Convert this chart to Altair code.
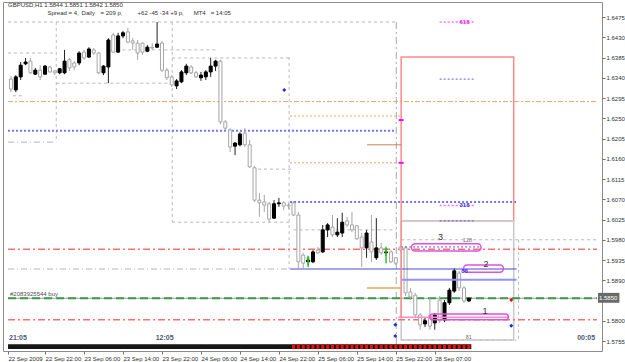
import altair as alt
import pandas as pd

# ---------------- candles (H1 bars, index 0 = first visible bar) ----------------
opens = [1.6337, 1.6313, 1.6342, 1.6371, 1.6377, 1.6348, 1.6357, 1.6348, 1.6364, 1.6355,
         1.6351, 1.6351, 1.6380, 1.6373, 1.6373, 1.6397, 1.6386, 1.6402, 1.6395, 1.6351,
         1.6364, 1.6435, 1.6397, 1.6433, 1.6442, 1.6422, 1.6417, 1.6417, 1.6399, 1.6408,
         1.6408, 1.6417, 1.6357, 1.6342, 1.6322, 1.6331, 1.6351, 1.6364, 1.6351, 1.6340,
         1.6342, 1.6353, 1.6366, 1.6377, 1.6242, 1.6224, 1.6188, 1.6191, 1.6217, 1.6191,
         1.6140, 1.6068, 1.6064, 1.6060, 1.6028, 1.6060, 1.6062, 1.6057, 1.6062, 1.6035,
         1.5946, 1.5931, 1.5931, 1.5957, 1.5953, 1.6002, 1.6008, 1.5991, 1.5995, 1.6022,
         1.6013, 1.6011, 1.5986, 1.5962, 1.5975, 1.5940, 1.5962, 1.5951, 1.5953, 1.5940,
         1.5964, 1.5962, 1.5864, 1.5857, 1.5813, 1.5793, 1.5811, 1.5795, 1.5846, 1.5802,
         1.5840, 1.5866, 1.5906, 1.5873, 1.5844]
highs = [1.6344, 1.6346, 1.6375, 1.6384, 1.6384, 1.6362, 1.6368, 1.6368, 1.6366, 1.6357,
         1.6362, 1.6402, 1.6384, 1.6377, 1.6399, 1.6402, 1.6408, 1.6406, 1.6397, 1.6368,
         1.6428, 1.6440, 1.6440, 1.6444, 1.6451, 1.6428, 1.6424, 1.6419, 1.6413, 1.6417,
         1.6464, 1.6422, 1.6362, 1.6346, 1.6337, 1.6357, 1.6371, 1.6368, 1.6355, 1.6353,
         1.6357, 1.6384, 1.6380, 1.6380, 1.6246, 1.6228, 1.6197, 1.6219, 1.6228, 1.6202,
         1.6144, 1.6084, 1.6080, 1.6064, 1.6068, 1.6073, 1.6066, 1.6062, 1.6066, 1.6042,
         1.5951, 1.5942, 1.5957, 1.5964, 1.6013, 1.6017, 1.6035, 1.6028, 1.6040, 1.6031,
         1.6042, 1.6013, 1.5995, 1.6002, 1.6035, 1.6028, 1.5973, 1.5962, 1.5957, 1.5942,
         1.5968, 1.5966, 1.5873, 1.5862, 1.5817, 1.5806, 1.5851, 1.5817, 1.5855, 1.5846,
         1.5873, 1.5917, 1.5911, 1.5877, 1.5851]
lows = [1.6308, 1.6308, 1.6335, 1.6368, 1.6348, 1.6346, 1.6335, 1.6346, 1.6351, 1.6346,
        1.6348, 1.6348, 1.6355, 1.6357, 1.6368, 1.6380, 1.6384, 1.6391, 1.6348, 1.6346,
        1.6328, 1.6395, 1.6395, 1.6428, 1.6417, 1.6402, 1.6380, 1.6391, 1.6397, 1.6402,
        1.6406, 1.6353, 1.6335, 1.6320, 1.6315, 1.6328, 1.6346, 1.6348, 1.6340, 1.6333,
        1.6335, 1.6342, 1.6355, 1.6237, 1.6224, 1.6175, 1.6168, 1.6188, 1.6186, 1.6140,
        1.6064, 1.6031, 1.6042, 1.6019, 1.6026, 1.6053, 1.6046, 1.6048, 1.6033, 1.5917,
        1.5917, 1.5924, 1.5928, 1.5948, 1.5951, 1.5986, 1.5986, 1.5986, 1.5986, 1.6008,
        1.5997, 1.5980, 1.5919, 1.5940, 1.5931, 1.5935, 1.5946, 1.5944, 1.5928, 1.5924,
        1.5953, 1.5855, 1.5846, 1.5806, 1.5780, 1.5786, 1.5780, 1.5780, 1.5795, 1.5797,
        1.5835, 1.5862, 1.5866, 1.5840, 1.5842]
closes = [1.6315, 1.6342, 1.6368, 1.6375, 1.6351, 1.6357, 1.6342, 1.6366, 1.6353, 1.6351,
          1.6360, 1.6377, 1.6362, 1.6364, 1.6395, 1.6384, 1.6404, 1.6395, 1.6351, 1.6366,
          1.6424, 1.6397, 1.6433, 1.6440, 1.6419, 1.6417, 1.6395, 1.6397, 1.6408, 1.6406,
          1.6415, 1.6357, 1.6340, 1.6324, 1.6333, 1.6353, 1.6366, 1.6351, 1.6342, 1.6346,
          1.6353, 1.6366, 1.6377, 1.6242, 1.6228, 1.6186, 1.6195, 1.6215, 1.6191, 1.6142,
          1.6068, 1.6062, 1.6057, 1.6026, 1.6060, 1.6062, 1.6055, 1.6055, 1.6035, 1.5931,
          1.5928, 1.5935, 1.5953, 1.5951, 1.6002, 1.6013, 1.5991, 1.5997, 1.6019, 1.6013,
          1.6002, 1.5982, 1.5962, 1.5995, 1.5953, 1.5962, 1.5951, 1.5953, 1.5931, 1.5928,
          1.5957, 1.5862, 1.5853, 1.5813, 1.5791, 1.5800, 1.5788, 1.5813, 1.5800, 1.5840,
          1.5868, 1.5911, 1.5873, 1.5844, 1.5850]
bar_index = list(range(len(opens)))

# 1.5845 sits under the current-price box, so it is not listed
price_ticks = [1.6475, 1.6430, 1.6385, 1.6340, 1.6295, 1.6250, 1.6205, 1.6160, 1.6115,
               1.6070, 1.6025, 1.5980, 1.5935, 1.5890, 1.5800, 1.5755]
time_ticks = [-0.6, 7, 15, 23, 31, 39, 47, 55, 63, 71, 79, 87]
time_labels = ["22 Sep 2009", "22 Sep 22:00", "23 Sep 06:00", "23 Sep 14:00", "23 Sep 22:00",
               "24 Sep 06:00", "24 Sep 14:00", "24 Sep 22:00", "25 Sep 06:00", "25 Sep 14:00",
               "25 Sep 22:00", "28 Sep 07:00"]

# ---------------- chart objects (x = bar index, p = price) ----------------
grey_dotted = [(-0.6, 79.1, 1.6464), (-0.6, 9.3, 1.6395), (9.3, 33.1, 1.6328),
               (20.4, 42.2, 1.6402), (33.1, 57.1, 1.6384), (33.1, 57.1, 1.6019),
               (50.7, 58.0, 1.6137), (58.0, 79.1, 1.6002), (0.4, 2.2, 1.6300),
               (80.1, 120.3, 1.5980), (80.1, 103.8, 1.5757)]
grey_dashdot = [(-0.6, 9.3, 1.6197), (-0.6, 57.1, 1.5915)]
grey_vertical = [(9.3, 1.6464, 1.6197), (33.1, 1.6464, 1.6019), (57.1, 1.6386, 1.5915),
                 (104.2, 1.5980, 1.5757)]
session_vertical = [(79.1, 1.6464, 1.5733)]
orange_dashdot = [(-0.6, 120.3, 1.6287)]
orange_dotted = [(57.3, 80.1, 1.6255), (57.3, 80.1, 1.6151)]
orange_solid = [(73.1, 80.1, 1.6191)]
tan_solid = [(73.1, 80.1, 1.5873)]
blue_dotted_wide = [(-0.6, 79.1, 1.6222), (57.3, 103.8, 1.6064)]
blue_dotted_thin = [(88.0, 95.1, 1.6337), (88.0, 95.1, 1.6022), (80.1, 96.3, 1.5964)]
magenta_dotted = [(88.0, 95.1, 1.6464), (88.0, 95.1, 1.6056)]
blue_solid = [(57.3, 103.8, 1.5915)]
light_blue_solid = [(80.1, 103.8, 1.5891)]
pink_solid = [(79.5, 102.1, 1.5808)]
red_dashdot = [(-0.6, 120.3, 1.5959), (-0.6, 120.3, 1.5802)]
order_line = [(-0.6, 120.3, 1.5850)]
magenta_ticks = [(79.6, 80.6, 1.6246), (79.6, 80.6, 1.6151)]
red_vertical = [(80.1, 1.6022, 1.5808)]
red_box = [(80.1, 103.2, 1.6386, 1.6022)]
grey_box = [(80.1, 103.2, 1.6022, 1.5757)]
ellipses = [(82.2, 96.5, 1.5971, 1.5955), (92.9, 101.1, 1.5924, 1.5908),
            (86.0, 102.1, 1.5815, 1.5802)]
blue_marks = [(56.1, 1.6313), (78.9, 1.5791), (78.9, 1.5766), (102.7, 1.5789)]
red_marks = [(102.7, 1.5846)]
arrows = [(61, 1.5919, 1.5942), (77, 1.5928, 1.5962)]
strip = [(-0.6, 94.5, 1.5748, 1.5737)]
strip_red = bar_index[58:]

title_text = [(-0.6, 1.6502, "GBPUSD,H1  1.5844 1.5851 1.5842 1.5850")]
info_text = [(7.5, 1.6484, "Spread = 4,"), (14.5, 1.6484, "Daily"), (18.4, 1.6484, "= 209 p,"),
             (26.0, 1.6484, "+62 -45 -34 +9 p,"), (37.5, 1.6484, "MT4"), (41.0, 1.6484, "= 14:05")]
order_text = [(-0.2, 1.5859, "#2083925544 buy")]
clock_left = [(-0.4, 1.5761, "21:05"), (29.7, 1.5761, "12:05")]
clock_right = [(119.9, 1.5761, "00:05")]
wave_labels = [(88.2, 1.5987, "3"), (97.5, 1.5927, "2"), (97.3, 1.5822, "1")]
small_grey = [(93.7, 1.5980, "128"), (94.0, 1.5763, "81")]
fibo_magenta = [(93.1, 1.6464, "618")]
fibo_blue = [(93.1, 1.6058, "318"), (93.1, 1.5911, "88")]
price_box = [(120.5, 124.9, 1.5862, 1.5840)]
price_box_text = [(120.7, 1.5851, "1.5850")]

# ---------------- scales / axes ----------------
FONT = "Liberation Sans"
xs = alt.Scale(domain=[-0.606, 120.3], nice=False, zero=False)
ys = alt.Scale(domain=[1.57328, 1.65084], nice=False, zero=False)
label_expr = ("[" + ",".join(repr(s) for s in time_labels) + "][indexof(["
              + ",".join(str(t) for t in time_ticks) + "], datum.value)]")
AX = alt.Axis(values=time_ticks, labelExpr=label_expr, title=None, grid=False, domain=False,
              tickSize=3, tickColor="#707070", labelFont=FONT, labelFontSize=6,
              labelColor="#303030", labelAlign="left", labelBaseline="top", labelPadding=1,
              labelOverlap=False, labelFlush=False, labelBound=False)
AY = alt.Axis(values=price_ticks, format=".4f", orient="right", title=None, grid=False,
              domain=False, tickSize=3, tickColor="#707070", labelFont=FONT, labelFontSize=6,
              labelColor="#303030", labelPadding=1, labelOverlap=False, labelFlush=False,
              labelBound=False)


def X(f="x"):
    return alt.X(f"{f}:Q", scale=xs, axis=AX)


def Y(f="p"):
    return alt.Y(f"{f}:Q", scale=ys, axis=AY)


def hlines(rows, color, width=1.0, dash=None):
    df = pd.DataFrame(rows, columns=["x", "x2", "p"])
    props = dict(color=color, strokeWidth=width)
    if dash:
        props["strokeDash"] = dash
    return alt.Chart(df).mark_rule(**props).encode(x=X(), x2="x2:Q", y=Y())


def vlines(rows, color, width=1.0, dash=None):
    df = pd.DataFrame(rows, columns=["x", "p", "p2"])
    props = dict(color=color, strokeWidth=width)
    if dash:
        props["strokeDash"] = dash
    return alt.Chart(df).mark_rule(**props).encode(x=X(), y=Y(), y2="p2:Q")


def boxes(rows, stroke=None, width=1.0, radius=0, fill=None):
    df = pd.DataFrame(rows, columns=["x", "x2", "p", "p2"])
    props = dict(strokeWidth=width, cornerRadius=radius)
    if fill:
        props["fill"] = fill
        props["strokeWidth"] = 0
    else:
        props["fillOpacity"] = 0
        props["stroke"] = stroke
    return alt.Chart(df).mark_rect(**props).encode(x=X(), x2="x2:Q", y=Y(), y2="p2:Q")


def texts(rows, color, size, weight="normal", align="left"):
    df = pd.DataFrame(rows, columns=["x", "p", "t"])
    return alt.Chart(df).mark_text(color=color, fontSize=size, fontWeight=weight, align=align,
                                   baseline="middle", font=FONT).encode(x=X(), y=Y(), text="t:N")


def points(rows, color, shape, size):
    df = pd.DataFrame(rows, columns=["x", "p"])
    return alt.Chart(df).mark_point(color=color, shape=shape, size=size, filled=True,
                                    opacity=1).encode(x=X(), y=Y())


cdf = pd.DataFrame({"x": bar_index, "o": opens, "h": highs, "l": lows, "c": closes})
bull = "datum.c >= datum.o"
wicks = alt.Chart(cdf).mark_rule(strokeWidth=1).encode(
    x=X(), y=Y("l"), y2="h:Q",
    color=alt.condition(bull, alt.value("#202020"), alt.value("#a6a6a6")))
bodies = alt.Chart(cdf).mark_bar(size=3, strokeWidth=1, orient="vertical").encode(
    x=X(), y=Y("o"), y2="c:Q",
    fill=alt.condition(bull, alt.value("#000000"), alt.value("#ffffff")),
    stroke=alt.condition(bull, alt.value("#000000"), alt.value("#a6a6a6")))

adf = pd.DataFrame(arrows, columns=["x", "p", "p2"])
arrow_shafts = alt.Chart(adf).mark_rule(color="#22cc22", strokeWidth=1.5).encode(
    x=X(), y=Y(), y2="p2:Q")
arrow_heads = alt.Chart(adf).mark_point(color="#22cc22", shape="triangle-up", size=14,
                                        filled=True, opacity=1).encode(x=X(), y=Y("p2"))

sdf = pd.DataFrame({"x": strip_red, "a": strip[0][2], "b": strip[0][3]})
strip_red_marks = alt.Chart(sdf).mark_rule(color="#e01010", strokeWidth=3).encode(
    x=X(), y=Y("a"), y2="b:Q")

layers = [
    hlines(grey_dotted, "#b8b8b8", 1, [3, 3]),
    hlines(grey_dashdot, "#b4b4b4", 1, [6, 3, 1, 3]),
    vlines(grey_vertical, "#bcbcbc", 1, [3, 3]),
    vlines(session_vertical, "#a8a8a8", 1, [7, 3, 2, 3]),
    hlines(orange_dashdot, "#f2a066", 1, [5, 2, 2, 2]),
    hlines(orange_dotted, "#f2a066", 1, [2, 2]),
    hlines(blue_dotted_wide, "#7474f4", 2, [2, 2]),
    boxes(red_box, "#ff8a8a", 1.5),
    boxes(grey_box, "#c8c8c8", 1.5),
    hlines(order_line, "#9a9a9a", 1),
    hlines(red_dashdot, "#ff6e6e", 1.5, [7, 3, 2, 3]),
    hlines(order_line, "#3a9a4a", 2, [8, 4]),
    wicks,
    bodies,
    hlines(orange_solid, "#c8845a", 1),
    hlines(tan_solid, "#f4b888", 2),
    hlines(blue_solid, "#4848d0", 1),
    hlines(light_blue_solid, "#9292ff", 2),
    hlines(pink_solid, "#ff8cc6", 1.5),
    hlines(blue_dotted_thin, "#5a5ae8", 1, [2, 2]),
    hlines(magenta_dotted, "#ff70ff", 1.5, [2, 2]),
    hlines(magenta_ticks, "#ff00ff", 2),
    vlines(red_vertical, "#ff8a8a", 1.5),
    boxes(ellipses, "#e050e0", 1.5, radius=5),
    points(blue_marks, "#1a2ee0", "diamond", 16),
    points(red_marks, "#e01010", "diamond", 16),
    arrow_shafts,
    arrow_heads,
    boxes(strip, fill="#151515"),
    strip_red_marks,
    texts(title_text, "#303030", 6),
    texts(info_text, "#303030", 6),
    texts(order_text, "#505050", 6),
    texts(clock_left, "#4a5878", 7, "bold"),
    texts(clock_right, "#4a5878", 7, "bold", "right"),
    texts(wave_labels, "#303030", 9, align="center"),
    texts(small_grey, "#707070", 5.5, align="center"),
    texts(fibo_magenta, "#ee22ee", 6, "bold", "center"),
    texts(fibo_blue, "#3a3aee", 6, "bold", "center"),
    boxes(price_box, fill="#6a6a6a"),
    texts(price_box_text, "#ffffff", 6),
]

chart = alt.layer(*layers).properties(
    width=599, height=349,
    autosize=alt.AutoSizeParams(type="none"),
    padding={"left": 3, "top": 2, "right": 23, "bottom": 11},
    background="#ffffff",
).configure_view(stroke="#8c8c8c", strokeWidth=1)

chart.save("out.html", embed_options={"renderer": "svg", "actions": False})
